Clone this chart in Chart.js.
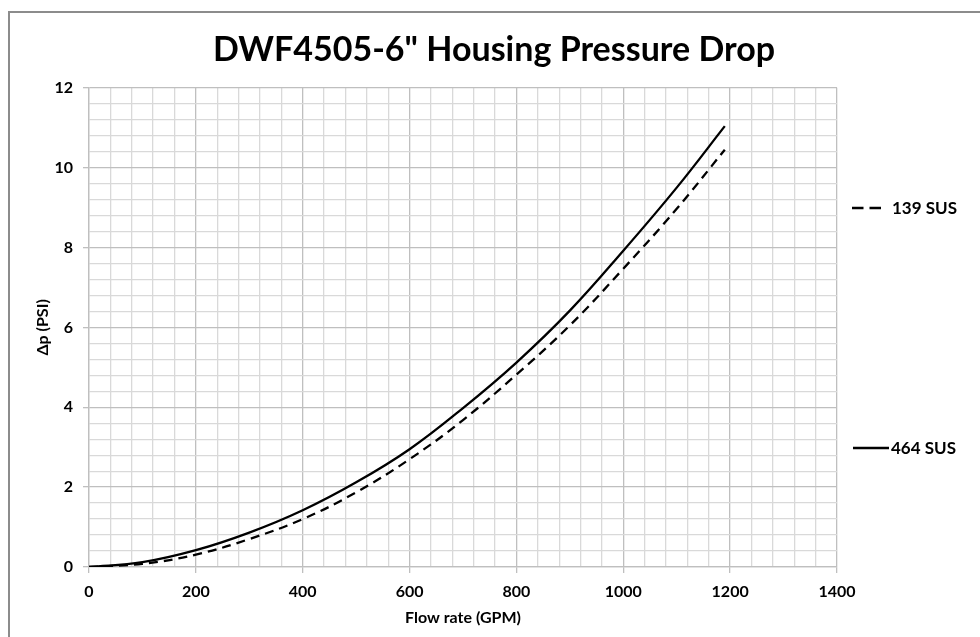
<!DOCTYPE html>
<html>
<head>
<meta charset="utf-8">
<script src="https://cdn.jsdelivr.net/npm/chart.js@4.4.1/dist/chart.umd.min.js"></script>
<style>
  html, body { margin: 0; padding: 0; background: #fff; overflow: hidden; }
  #wrap { position: relative; width: 980px; height: 637px; }
  #frame { position: absolute; left: 8px; top: 11px; width: 1000px; height: 700px;
           border-top: 2px solid #8c8c8c; border-left: 2px solid #8c8c8c; }
  canvas { position: absolute; left: 0; top: 0; }
</style>
</head>
<body>
<div id="wrap">
  <div id="frame"></div>
  <canvas id="chart" width="980" height="637"></canvas>
</div>
<script>
// Pressure drop curves
const flowRate = [0, 100, 200, 300, 400, 500, 600, 700, 800, 900, 1000, 1100, 1190];
const dp464 = [0, 0.12, 0.42, 0.86, 1.42, 2.12, 2.95, 3.98, 5.12, 6.42, 7.92, 9.50, 11.04];
const dp139 = [0, 0.08, 0.31, 0.70, 1.20, 1.87, 2.70, 3.68, 4.82, 6.05, 7.47, 8.97, 10.45];
const seriesNames = ['464 SUS', '139 SUS'];

const FONT = 'Lato, "Open Sans", sans-serif';

const isMajor = (v, step) => Math.abs(v / step - Math.round(v / step)) < 1e-6;

// Excel puts the series names at odd heights on the right, so draw them by hand
const sideLegend = {
  id: 'sideLegend',
  afterDraw(chart) {
    const ctx = chart.ctx;
    const spots = [{ y: 448, x0: 853, x1: 889, tx: 891 }, { y: 208, x0: 852, x1: 881, tx: 892 }];
    chart.data.datasets.forEach((ds, i) => {
      const s = spots[i];
      ctx.save();
      ctx.strokeStyle = ds.borderColor;
      ctx.lineWidth = ds.borderWidth;
      ctx.setLineDash(ds.borderDash.length ? [11.5, 6] : []);
      ctx.beginPath();
      ctx.moveTo(s.x0, s.y);
      ctx.lineTo(s.x1, s.y);
      ctx.stroke();
      ctx.setLineDash([]);
      ctx.fillStyle = '#000';
      ctx.font = 'bold 17px ' + FONT;
      ctx.textBaseline = 'middle';
      ctx.fillText(ds.label, s.tx, s.y + 1);
      ctx.restore();
    });
  }
};

new Chart(document.getElementById('chart'), {
  type: 'line',
  data: {
    datasets: [
      {
        label: seriesNames[0],
        data: flowRate.map((q, i) => ({ x: q, y: dp464[i] })),
        borderColor: '#000',
        borderWidth: 2.3,
        borderDash: [],
        pointRadius: 0,
        tension: 0.4
      },
      {
        label: seriesNames[1],
        data: flowRate.map((q, i) => ({ x: q, y: dp139[i] })),
        borderColor: '#000',
        borderWidth: 2.3,
        borderDash: [9, 6],
        pointRadius: 0,
        tension: 0.4
      }
    ]
  },
  options: {
    responsive: false,
    animation: false,
    layout: { padding: { left: 8, right: 0, top: 0, bottom: 0 } },
    plugins: {
      legend: { display: false },
      tooltip: { enabled: false },
      title: {
        display: true,
        text: 'DWF4505-6" Housing Pressure Drop',
        color: '#000',
        font: { family: FONT, size: 34, weight: 'bold' },
        padding: { top: 30, bottom: 17 }
      }
    },
    scales: {
      x: {
        type: 'linear',
        min: 0,
        max: 1400,
        afterFit: (scale) => { scale.height = 70; },
        ticks: {
          stepSize: 40,
          maxTicksLimit: 100,
          autoSkip: false,
          maxRotation: 0,
          padding: 9,
          color: '#000',
          font: { family: FONT, size: 16, weight: 'bold' },
          callback: (v) => isMajor(v, 200) ? v : ''
        },
        grid: {
          color: (c) => isMajor(c.tick.value, 200) ? '#bfbfbf' : '#d9d9d9',
          tickColor: (c) => isMajor(c.tick.value, 200) ? '#bfbfbf' : 'rgba(0,0,0,0)',
          tickLength: 6,
          lineWidth: 1.3
        },
        border: { color: '#bfbfbf', width: 1.3 },
        title: {
          display: true,
          text: 'Flow rate (GPM)',
          color: '#000',
          font: { family: FONT, size: 16, weight: 'bold' },
          padding: { top: 0, bottom: 10 }
        }
      },
      y: {
        min: 0,
        max: 12,
        afterFit: (scale) => { scale.width = 81; },
        ticks: {
          stepSize: 0.4,
          maxTicksLimit: 100,
          autoSkip: false,
          padding: 10,
          color: '#000',
          font: { family: FONT, size: 16, weight: 'bold' },
          callback: (v) => isMajor(v, 2) ? Math.round(v) : ''
        },
        grid: {
          color: (c) => isMajor(c.tick.value, 2) ? '#bfbfbf' : '#d9d9d9',
          tickColor: (c) => isMajor(c.tick.value, 2) ? '#bfbfbf' : 'rgba(0,0,0,0)',
          tickLength: 6,
          lineWidth: 1.3
        },
        border: { color: '#bfbfbf', width: 1.3 },
        title: {
          display: true,
          text: 'Δp (PSI)',
          color: '#000',
          font: { family: FONT, size: 16, weight: 'bold' },
          padding: { top: 25, bottom: 0 }
        }
      },
      // empty box on the right that holds the space for the series names
      side: {
        type: 'linear',
        position: 'right',
        afterFit: (scale) => { scale.width = 143; },
        grid: { display: false },
        ticks: { display: false },
        border: { display: false }
      }
    }
  },
  plugins: [sideLegend]
});
</script>
</body>
</html>
